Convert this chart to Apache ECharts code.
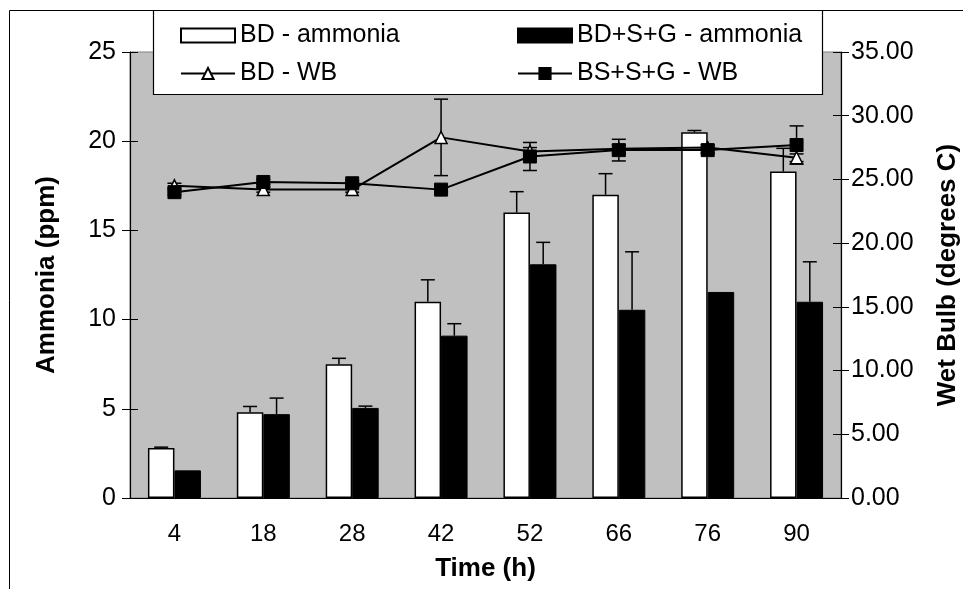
<!DOCTYPE html>
<html>
<head>
<meta charset="utf-8">
<script src="https://cdn.jsdelivr.net/npm/echarts@6/dist/echarts.min.js"></script>
<style>
  html, body { margin: 0; padding: 0; background: #fff; }
  #chart { width: 963px; height: 589px; }
</style>
</head>
<body>
<div id="chart"></div>
<script>
// time points (h)
const times = ['4', '18', '28', '42', '52', '66', '76', '90']

// ammonia (ppm), left axis
const bdAmmonia = [2.8, 4.8, 7.5, 11.0, 16.0, 17.0, 20.5, 18.3]
const bdAmmoniaErr = [0.05, 0.33, 0.33, 1.23, 1.17, 1.18, 0.1, 1.3]
const bsgAmmonia = [1.55, 4.7, 5.05, 9.1, 13.1, 10.55, 11.55, 11.0]
const bsgAmmoniaErr = [0, 0.9, 0.1, 0.67, 1.23, 3.25, 0, 2.24]

// wet bulb (degrees C), right axis
const bdWB = [24.5, 24.2, 24.2, 28.3, 27.2, 27.4, 27.5, 26.7]
const bdWBErr = [0.2, 0.2, 0.2, 3.0, 0.3, 0.3, 0.2, 0.3]
const bsgWB = [24.0, 24.8, 24.7, 24.2, 26.8, 27.3, 27.3, 27.7]
const bsgWBErr = [0.2, 0.2, 0.2, 0.2, 1.1, 0.85, 0.2, 1.5]

const leftTicks = [0, 25, 5]
const rightTicks = [0, 35, 5]

const FONT = '"Liberation Sans", Arial, sans-serif'
const BAR_W = 26.5

let chart = echarts.init(document.getElementById('chart'))

// error bar drawn with a custom series; offset moves it onto its bar
function errorBar(offset, both) {
    return function (params, api) {
        let i = api.value(0), v = api.value(1), e = api.value(2)
        if (!(e > 0)) return null
        let top = api.coord([i, v + e])
        let bot = api.coord([i, both ? v - e : v])
        let x = top[0] + offset
        let st = { stroke: '#000', lineWidth: 1.5 }
        let kids = [
            { type: 'line', shape: { x1: x, y1: bot[1], x2: x, y2: top[1] }, style: st },
            { type: 'line', shape: { x1: x - 7, y1: top[1], x2: x + 7, y2: top[1] }, style: st }
        ]
        if (both) {
            kids.push({ type: 'line', shape: { x1: x - 7, y1: bot[1], x2: x + 7, y2: bot[1] }, style: st })
        }
        return { type: 'group', children: kids }
    }
}

function errData(vals, errs) {
    return vals.map((v, i) => [i, v, errs[i]])
}

let legendText = { fontFamily: FONT, fontSize: 25, color: '#000', lineHeight: 24 }

let option = {
    animation: false,
    textStyle: { fontFamily: FONT },
    grid: {
        left: 130, right: 122, top: 52, bottom: 91,
        outerBoundsMode: 'none',
        show: true, backgroundColor: '#c0c0c0', borderColor: '#808080', borderWidth: 1
    },
    graphic: [
        {
            type: 'rect', z: 1, silent: true,
            shape: { x: 9.5, y: 10.5, width: 1200, height: 1200 },
            style: { fill: 'none', stroke: '#000', lineWidth: 1 }
        },
        {
            type: 'rect', z: 3, silent: true,
            shape: { x: 153.5, y: 10.5, width: 669, height: 84 },
            style: { fill: '#fff', stroke: '#000', lineWidth: 1.2 }
        }
    ],
    legend: [
        {
            orient: 'vertical', left: 175, top: 18, z: 5,
            itemWidth: 54, itemHeight: 14, itemGap: 13,
            textStyle: legendText,
            data: [{ name: 'BD - ammonia', icon: 'rect' }, 'BD - WB']
        },
        {
            orient: 'vertical', left: 512, top: 18, z: 5,
            itemWidth: 54, itemHeight: 14, itemGap: 13,
            textStyle: legendText,
            data: [{ name: 'BD+S+G - ammonia', icon: 'rect' }, 'BS+S+G - WB']
        }
    ],
    xAxis: [
        {
            type: 'category', data: times, position: 'bottom',
            name: 'Time (h)', nameLocation: 'middle', nameGap: 58,
            nameTextStyle: { fontFamily: FONT, fontSize: 26, fontWeight: 'bold', color: '#000' },
            axisLine: { onZero: false, lineStyle: { color: '#000', width: 1.2 } },
            axisTick: { length: 8, lineStyle: { color: '#000' } },
            axisLabel: { margin: 24, fontSize: 24, color: '#000', fontFamily: FONT },
            splitLine: { show: false }
        },
        {
            // inner half of the crossing ticks
            type: 'category', data: times, position: 'bottom',
            axisLine: { show: false },
            axisTick: { inside: true, length: 8, lineStyle: { color: '#000' } },
            axisLabel: { show: false },
            splitLine: { show: false }
        }
    ],
    yAxis: [
        {
            type: 'value', position: 'left',
            min: leftTicks[0], max: leftTicks[1], interval: leftTicks[2],
            name: 'Ammonia (ppm)', nameLocation: 'middle', nameGap: 70,
            nameTextStyle: { fontFamily: FONT, fontSize: 26, fontWeight: 'bold', color: '#000' },
            axisLine: { show: true, lineStyle: { color: '#000', width: 1.2 } },
            axisTick: { show: true, length: 8, lineStyle: { color: '#000' } },
            axisLabel: { margin: 14, fontSize: 25, color: '#000', fontFamily: FONT },
            splitLine: { show: false }
        },
        {
            type: 'value', position: 'right',
            min: rightTicks[0], max: rightTicks[1], interval: rightTicks[2],
            name: 'Wet Bulb (degrees C)', nameLocation: 'middle', nameGap: 94, nameRotate: 90,
            nameTextStyle: { fontFamily: FONT, fontSize: 26, fontWeight: 'bold', color: '#000' },
            axisLine: { show: true, lineStyle: { color: '#000', width: 1.2 } },
            axisTick: { show: true, length: 8, lineStyle: { color: '#000' } },
            axisLabel: {
                margin: 10, fontSize: 25, color: '#000', fontFamily: FONT,
                formatter: v => v.toFixed(2)
            },
            splitLine: { show: false }
        },
        {
            type: 'value', position: 'left',
            min: leftTicks[0], max: leftTicks[1], interval: leftTicks[2],
            axisLine: { show: false },
            axisTick: { show: true, inside: true, length: 8, lineStyle: { color: '#000' } },
            axisLabel: { show: false },
            splitLine: { show: false }
        },
        {
            type: 'value', position: 'right',
            min: rightTicks[0], max: rightTicks[1], interval: rightTicks[2],
            axisLine: { show: false },
            axisTick: { show: true, inside: true, length: 8, lineStyle: { color: '#000' } },
            axisLabel: { show: false },
            splitLine: { show: false }
        }
    ],
    series: [
        {
            name: 'BD - ammonia', type: 'bar', yAxisIndex: 0, z: 2,
            barWidth: BAR_W, barGap: '0%',
            itemStyle: { color: '#fff', borderColor: '#000', borderWidth: 1.5 },
            data: bdAmmonia
        },
        {
            name: 'BD+S+G - ammonia', type: 'bar', yAxisIndex: 0, z: 2,
            barWidth: BAR_W, barGap: '0%',
            itemStyle: { color: '#000', borderColor: '#000', borderWidth: 1 },
            data: bsgAmmonia
        },
        {
            type: 'custom', yAxisIndex: 0, z: 3, silent: true,
            renderItem: errorBar(-BAR_W / 2, false),
            encode: { x: 0, y: 1 },
            data: errData(bdAmmonia, bdAmmoniaErr)
        },
        {
            type: 'custom', yAxisIndex: 0, z: 3, silent: true,
            renderItem: errorBar(BAR_W / 2, false),
            encode: { x: 0, y: 1 },
            data: errData(bsgAmmonia, bsgAmmoniaErr)
        },
        {
            type: 'custom', yAxisIndex: 1, z: 3, silent: true,
            renderItem: errorBar(0, true),
            encode: { x: 0, y: 1 },
            data: errData(bdWB, bdWBErr)
        },
        {
            type: 'custom', yAxisIndex: 1, z: 3, silent: true,
            renderItem: errorBar(0, true),
            encode: { x: 0, y: 1 },
            data: errData(bsgWB, bsgWBErr)
        },
        {
            name: 'BD - WB', type: 'line', yAxisIndex: 1, z: 4,
            symbol: 'triangle', symbolSize: 12,
            lineStyle: { color: '#000', width: 2 },
            itemStyle: { color: '#fff', borderColor: '#000', borderWidth: 1.5 },
            data: bdWB
        },
        {
            name: 'BS+S+G - WB', type: 'line', yAxisIndex: 1, z: 4,
            symbol: 'rect', symbolSize: 13,
            lineStyle: { color: '#000', width: 2 },
            itemStyle: { color: '#000', borderColor: '#000', borderWidth: 1 },
            data: bsgWB
        }
    ]
}

chart.setOption(option)
window.addEventListener('resize', chart.resize)
</script>
</body>
</html>
